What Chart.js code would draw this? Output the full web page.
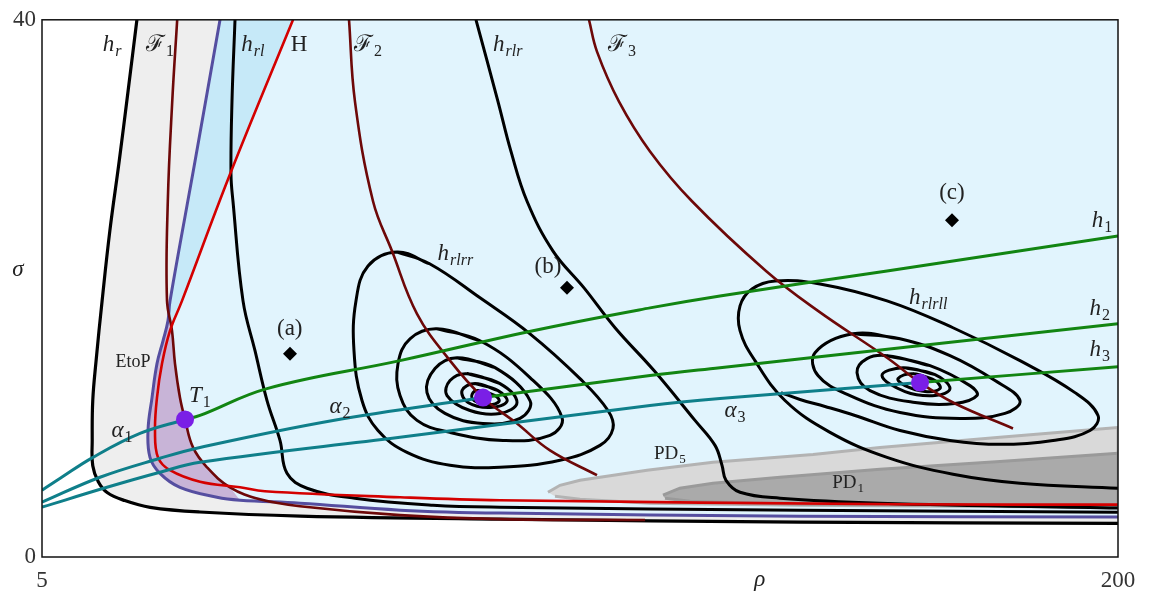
<!DOCTYPE html>
<html>
<head>
<script src="https://cdn.jsdelivr.net/npm/chart.js@4.4.1/dist/chart.umd.min.js"></script>
<style>body{margin:0;background:#fff}</style>
</head>
<body>
<canvas id="canvas" width="1157" height="597"></canvas>
<script>
// axis ticks
const xTicks = [5, 200];
const yTicks = [0, 40];

// curves, [rho, sigma]
const hR = [[22.2,40],[20.6,34.7],[19.0,29.5],[17.3,24.3],[15.9,19.1],[14.8,14.6],[14.2,11.65],[14.1,8.7],[14.2,6.8],[15.2,5.6],[16.8,4.8],[20.0,4.2],[24.6,3.7],[33.6,3.35],[51.8,3.05],[88,2.82],[142.4,2.6],[200,2.5]];
const etop = [[37.26,40],[32.73,29.46],[28.2,19.07],[27.83,17.59],[26.93,16.1],[25.84,14.4],[24.94,11.87],[24.21,9.42],[24.57,7.42],[26.38,6.23],[30.0,5.19],[36.71,4.45],[40.88,4.23],[51.76,4.01],[69.9,3.49],[88,3.27],[142.4,3.04],[200,2.97]];
const F1 = [[29.5,40],[28.6,33.9],[27.8,26.5],[27.65,19.1],[28.56,16.85],[29.1,14.4],[30.0,11.87],[30.92,10.24],[32.37,8.16],[34.9,6.68],[39.07,5.19],[44.5,4.3],[51.76,3.78],[69.9,3.12],[88,2.82],[114.3,2.75]];
const H = [[50.49,40],[39.07,28.5],[30.37,19.07],[28.2,16.85],[26.75,14.4],[25.84,11.87],[25.48,9.42],[26.02,7.42],[28.2,6.46],[33.63,5.6],[40.88,5.19],[45.4,4.9],[69.9,4.45],[88,4.23],[160.5,3.93],[200,3.9]];
const hRL = [[39.98,40],[39.43,33.91],[39.25,28.5],[39.61,26.49],[41.43,19.07],[43.6,15.36],[45.78,11.65],[48.13,8.68],[49.4,6.23],[53.03,5.12],[61.7,4.38],[75.86,3.86],[88,3.71],[142.4,3.49],[200,3.34]];
const F2 = [[60.64,40],[61.72,33.91],[64.99,26.49],[68.43,22.78],[72.96,18.11],[78.94,14.62],[84.92,11.87],[91.08,9.94],[97.06,7.94],[105.58,6.09]];
const hRLR = [[83.65,40],[87.64,33.91],[89.99,30.2],[92.9,26.49],[97.61,22.78],[103.23,20.04],[108.85,17.07],[115.91,13.88],[123.34,10.17],[126.97,8.31],[128.23,6.83],[128.96,5.71],[131.5,4.82],[138.75,4.38],[156.87,4.01],[200,3.64]];
const F3 = [[104.13,40],[105.58,37.63],[109.57,33.91],[115.19,30.2],[122.8,26.49],[136.21,21.3],[145.63,18.33],[158.14,14.84],[164.12,12.99],[170.46,11.43],[180.97,9.57]];

const hRLRR = [
  [[69.34,22.71],[75.32,21.82],[84.38,19.3],[93.44,16.62],[102.5,13.28],[107.57,10.91],[108.48,9.57],[106.12,8.31],[98.87,7.2],[88.0,6.68],[78.94,6.83],[71.15,7.79],[65.89,9.42],[62.99,11.65],[61.54,15.36],[61.9,19.07],[64.08,21.67]],
  [[76.58,16.99],[84.38,16.1],[93.44,13.36],[99.24,10.39],[97.06,9.05],[88.55,8.68],[78.94,9.28],[72.96,10.17],[69.88,12.02],[69.52,14.4],[71.69,16.25]],
  [[80.21,14.84],[87.1,14.1],[93.44,11.65],[91.63,10.32],[84.92,9.94],[78.03,10.69],[74.77,12.24],[76.22,14.03]],
  [[82.02,13.65],[88.0,12.91],[91.08,11.5],[88.0,10.69],[82.57,10.91],[78.4,12.02],[78.94,13.14]],
  [[83.47,12.91],[87.64,12.39],[89.27,11.58],[86.19,11.13],[82.2,11.5],[81.12,12.39]],
  [[84.01,12.39],[87.1,12.02],[87.82,11.58],[85.83,11.35],[83.29,11.65],[82.93,12.1]]
];
const hRLRLLouter = [[200,5.12],[182.24,5.49],[170.1,6.16],[158.14,7.42],[147.81,9.28],[139.65,11.65],[134.21,14.62],[131.5,16.85],[131.5,18.7],[133.67,19.96],[137.84,20.56],[145.99,20.33],[158.14,19.07],[170.1,17.07],[182.24,14.62],[192.2,12.24],[196.38,10.54],[194.93,9.42],[188.22,8.68],[178.61,8.39],[169.55,8.68],[160.49,9.42],[152.34,10.54],[146.9,11.21],[142.37,11.73],[138.93,12.24]];
const hRLRLL = [
  [[151.97,16.62],[160.49,16.25],[169.55,14.99],[177.71,13.14],[182.24,11.65],[179.52,10.69],[171.37,10.32],[160.49,10.76],[151.43,12.02],[145.63,13.51],[145.09,15.21]],
  [[158.14,14.99],[165.93,14.25],[173.18,12.76],[174.45,12.02],[170.46,11.43],[163.21,11.5],[155.06,12.39],[152.7,13.73],[154.51,14.77]],
  [[161.04,14.1],[166.84,13.58],[169.55,12.54],[166.84,12.02],[161.4,12.32],[157.23,13.51]],
  [[162.85,13.65],[166.84,13.14],[167.74,12.54],[165.03,12.32],[161.4,12.76],[160.13,13.28]]
];

const h1 = [[30.92,10.24],[33.63,10.54],[45.78,12.54],[69.88,14.62],[93.98,16.85],[115.19,18.55],[127.87,19.44],[158.14,21.3],[200,23.9]];
const h2 = [[84.92,11.87],[115.19,13.51],[127.87,14.1],[200,17.37]];
const h3 = [[164.12,12.99],[200,14.17]];
const alpha1 = [[5,4.97],[8.3,5.86],[14.24,7.42],[22.76,9.2],[30.92,10.24]];
const alpha2 = [[5,4.08],[15.51,5.94],[26.38,7.35],[33.63,8.16],[57.74,10.17],[84.92,11.87]];
const alpha3 = [[5,3.71],[16.78,5.19],[26.38,6.31],[33.63,7.05],[69.88,8.91],[115.19,11.28],[127.87,11.8],[164.12,12.99]];

const pd5 = [[96.7,4.82],[98.87,5.34],[102.5,5.71],[114.64,6.46],[126.6,7.05],[144.73,7.64],[156.87,8.16],[178.61,8.91],[200,9.65],[200,3.71],[142.37,3.86],[115.19,4.01],[102.5,4.3],[97.97,4.53]];
const pd1 = [[117.54,4.6],[120.6,5.12],[126.6,5.49],[138.75,5.94],[156.87,6.53],[178.61,7.12],[200,7.72],[200,3.78],[142.37,3.93],[122.43,4.16],[117.9,4.38]];

const tPoints = [[30.92,10.24],[84.92,11.87],[164.12,12.99]];
const samples = [[49.94,15.14],[100.14,20.04],[169.92,25.08]];

// regions
const grayRegion = hR.concat([[200,40]]);
const blueRegion = etop.concat([[200,40]]);
const midBlueRegion = [[37.26,40],[28.2,19.07],[27.83,17.59],[28.2,16.85],[30.37,19.07],[39.07,28.5],[50.49,40]];
const purpleRegion = etop.slice(3, 13).concat(F1.slice(4, 11).reverse());

const labels = [
  {t:'h', s:'r', x:17.7, y:38.1, it:true, sit:true},
  {t:'\u2131', s:'1', x:26.4, y:38.1},
  {t:'h', s:'rl', x:43.2, y:38.1, it:true, sit:true},
  {t:'H', x:51.6, y:38.1},
  {t:'\u2131', s:'2', x:64.1, y:38.1},
  {t:'h', s:'rlr', x:89.4, y:38.1, it:true, sit:true},
  {t:'\u2131', s:'3', x:110.1, y:38.1},
  {t:'h', s:'rlrr', x:79.9, y:22.6, it:true, sit:true},
  {t:'(a)', x:49.9, y:17.0},
  {t:'(b)', x:96.7, y:21.6},
  {t:'(c)', x:169.9, y:27.1},
  {t:'h', s:'1', x:197.1, y:25.0, it:true},
  {t:'h', s:'2', x:196.7, y:18.5, it:true},
  {t:'h', s:'3', x:196.7, y:15.4, it:true},
  {t:'h', s:'rlrll', x:165.6, y:19.3, it:true, sit:true},
  {t:'EtoP', x:21.5, y:14.5, size:18},
  {t:'T', s:'1', x:33.6, y:12.0, it:true},
  {t:'\u03b1', s:'1', x:19.5, y:9.4, it:true},
  {t:'\u03b1', s:'2', x:59.0, y:11.2, it:true},
  {t:'\u03b1', s:'3', x:130.6, y:10.9, it:true},
  {t:'PD', s:'5', x:118.8, y:7.7, size:19},
  {t:'PD', s:'1', x:151.1, y:5.5, size:19},
  {t:'\u03c3', x:0.65, y:21.4, it:true},
  {t:'\u03c1', x:135.1, y:-1.7, it:true}
];

const pts = a => a.map(p => ({x: p[0], y: p[1]}));
const datasets = [];
function region(a, color, border, bw) {
  datasets.push({data: pts(a), fill: 'shape', backgroundColor: color, borderColor: border || 'rgba(0,0,0,0)', borderWidth: bw || 0, pointRadius: 0, tension: 0});
}
function curve(a, color, w) {
  datasets.push({data: pts(a), fill: false, borderColor: color, borderWidth: w, pointRadius: 0, tension: 0.4});
}
function loop(a, color, w) {
  curve(a.concat([a[0], a[1]]), color, w);
}

region(grayRegion, '#eeeeee');
region(blueRegion, '#e1f4fd');
region(midBlueRegion, '#c6e9f8');
region(purpleRegion, '#c8b4d7');
region(pd5, '#d9d9d9', '#b3b3b3', 3);
region(pd1, '#aaaaaa', '#9a9a9a', 3);
hRLRR.forEach(l => loop(l, '#000', 3));
hRLRLL.forEach(l => loop(l, '#000', 3));
curve(hRLRLLouter, '#000', 3);
curve(hR, '#000', 3.2);
curve(hRL, '#000', 3);
curve(hRLR, '#000', 3);
curve(etop, '#554ea0', 3);
curve(F1, '#6d0808', 2.6);
curve(F2, '#6d0808', 2.6);
curve(F3, '#6d0808', 2.6);
curve(H, '#d40000', 2.6);
curve(alpha1, '#0f7f8a', 3);
curve(alpha2, '#0f7f8a', 3);
curve(alpha3, '#0f7f8a', 3);
curve(h1, '#128512', 3);
curve(h2, '#128512', 3);
curve(h3, '#128512', 3);
datasets.push({data: pts(samples), showLine: false, pointStyle: 'rectRot', pointRadius: 7, backgroundColor: '#000', borderWidth: 0});
datasets.push({data: pts(tPoints), showLine: false, pointRadius: 9, backgroundColor: '#7a1fe6', borderWidth: 0});
datasets.forEach((d, i) => { d.order = -i; });

const decor = {
  id: 'decor',
  afterDatasetsDraw(chart) {
    const ctx = chart.ctx, xs = chart.scales.x, ys = chart.scales.y, a = chart.chartArea;
    ctx.save();
    ctx.fillStyle = '#222';
    ctx.textBaseline = 'middle';
    labels.forEach(l => {
      const size = l.size || 23;
      const mainFont = (l.it ? 'italic ' : '') + size + 'px "Liberation Serif", "DejaVu Serif", serif';
      const subFont = (l.sit ? 'italic ' : '') + Math.round(size * 0.68) + 'px "Liberation Serif", "DejaVu Serif", serif';
      ctx.font = mainFont;
      const w1 = ctx.measureText(l.t).width;
      ctx.font = subFont;
      const w2 = l.s ? ctx.measureText(l.s).width + 1 : 0;
      const px = xs.getPixelForValue(l.x) - (w1 + w2) / 2;
      const py = ys.getPixelForValue(l.y);
      ctx.textAlign = 'left';
      ctx.font = mainFont;
      ctx.fillText(l.t, px, py);
      if (l.s) {
        ctx.font = subFont;
        ctx.fillText(l.s, px + w1 + 1, py + size * 0.3);
      }
    });
    ctx.strokeStyle = '#111';
    ctx.lineWidth = 1.5;
    ctx.strokeRect(a.left, a.top, a.right - a.left, a.bottom - a.top);
    ctx.restore();
  }
};

new Chart(document.getElementById('canvas').getContext('2d'), {
  type: 'line',
  data: {datasets: datasets},
  plugins: [decor],
  options: {
    responsive: false,
    animation: false,
    devicePixelRatio: 1,
    layout: {padding: {top: 18, right: 39, left: 0, bottom: 0}},
    plugins: {legend: {display: false}, tooltip: {enabled: false}},
    scales: {
      x: {
        type: 'linear', min: 5, max: 200,
        grid: {display: false, drawTicks: false}, border: {display: false},
        afterBuildTicks: s => { s.ticks = xTicks.map(v => ({value: v})); },
        afterFit: s => { s.height = 40; },
        ticks: {font: {family: 'Liberation Serif', size: 23}, color: '#333', padding: 10, maxRotation: 0, autoSkip: false}
      },
      y: {
        type: 'linear', min: 0, max: 40,
        grid: {display: false, drawTicks: false}, border: {display: false},
        afterBuildTicks: s => { s.ticks = yTicks.map(v => ({value: v})); },
        afterFit: s => { s.width = 42; },
        ticks: {font: {family: 'Liberation Serif', size: 23}, color: '#333', padding: 6, autoSkip: false}
      }
    }
  }
});
</script>
</body>
</html>
